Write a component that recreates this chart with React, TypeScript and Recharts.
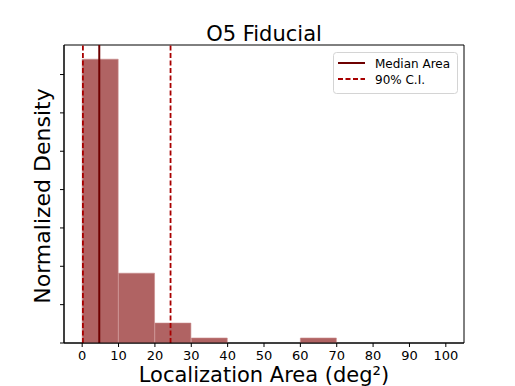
import React from 'react';
import {
  ComposedChart,
  Bar,
  XAxis,
  YAxis,
  ReferenceLine,
  ReferenceArea,
} from 'recharts';

// histogram bins (width 10 deg^2), values are normalized density
const binCenters = [5, 15, 25, 35, 45, 55, 65, 75, 85, 95];
const densities = [0.074, 0.0182, 0.0052, 0.0013, 0, 0, 0.0013, 0, 0, 0];
const xTicks = [0, 10, 20, 30, 40, 50, 60, 70, 80, 90, 100];
const yTicks = [0, 0.01, 0.02, 0.03, 0.04, 0.05, 0.06, 0.07];
const xDomain = [-5, 105];
const yDomain = [0, 0.0777];
const medianArea = 4.7;
const ciBounds = [0.2, 24.3];

const data = binCenters.map((x, i) => ({ x, density: densities[i] }));

const FONT = '"DejaVu Sans", sans-serif';
const BAR_COLOR = '#b06363';
const MEDIAN_COLOR = '#6e0000';
const CI_COLOR = '#a80000';

const App: React.FC = () => {
  return (
    <div style={{ position: 'absolute', left: 0, top: 0, width: 515, height: 386, background: '#fff', fontFamily: FONT }}>
      <ComposedChart
        width={515}
        height={386}
        data={data}
        margin={{ top: 45, right: 51, bottom: 0, left: 0 }}
        barCategoryGap={0}
        barGap={0}
      >
        <XAxis
          dataKey="x"
          type="number"
          domain={xDomain}
          ticks={xTicks}
          allowDataOverflow
          height={43}
          stroke="#000"
          tickSize={4}
          tick={{ fill: '#000', fontSize: 13, fontFamily: FONT }}
          tickMargin={4}
        />
        <YAxis
          type="number"
          domain={yDomain}
          ticks={yTicks}
          allowDataOverflow
          width={64}
          stroke="#000"
          tickSize={4}
          tickFormatter={() => ''}
        />
        <Bar
          dataKey="density"
          fill={BAR_COLOR}
          stroke="#c98c8c"
          strokeWidth={0.6}
          isAnimationActive={false}
        />
        <ReferenceLine x={medianArea} stroke={MEDIAN_COLOR} strokeWidth={2} />
        {ciBounds.map((v) => (
          <ReferenceLine key={v} x={v} stroke={CI_COLOR} strokeWidth={1.8} strokeDasharray="5 2.5" />
        ))}
        {/* axes frame (top / right spines) */}
        <ReferenceArea
          x1={xDomain[0]}
          x2={xDomain[1]}
          y1={yDomain[0]}
          y2={yDomain[1]}
          fill="none"
          fillOpacity={0}
          stroke="#000"
          strokeWidth={1}
          ifOverflow="visible"
        />
      </ComposedChart>

      <svg width={515} height={386} style={{ position: 'absolute', left: 0, top: 0, pointerEvents: 'none' }}>
        <text x={264} y={41} textAnchor="middle" fontSize={21} fontFamily={FONT} fill="#000">
          O5 Fiducial
        </text>
        <text x={264} y={382} textAnchor="middle" fontSize={21} fontFamily={FONT} fill="#000">
          Localization Area (deg²)
        </text>
        <text
          x={0}
          y={0}
          transform="translate(50,196) rotate(-90)"
          textAnchor="middle"
          fontSize={22}
          fontFamily={FONT}
          fill="#000"
        >
          Normalized Density
        </text>
        <g>
          <rect x={333.5} y={52.5} width={124} height={41} rx={3} fill="#fff" fillOpacity={0.8} stroke="#d4d4d4" />
          <line x1={338} y1={63} x2={365} y2={63} stroke={MEDIAN_COLOR} strokeWidth={2} />
          <text x={375} y={67.5} fontSize={12} fontFamily={FONT} fill="#000">Median Area</text>
          <line x1={338} y1={79} x2={365} y2={79} stroke={CI_COLOR} strokeWidth={1.8} strokeDasharray="5 2.5" />
          <text x={375} y={83.5} fontSize={12} fontFamily={FONT} fill="#000">90% C.I.</text>
        </g>
      </svg>
    </div>
  );
};

export default App;
